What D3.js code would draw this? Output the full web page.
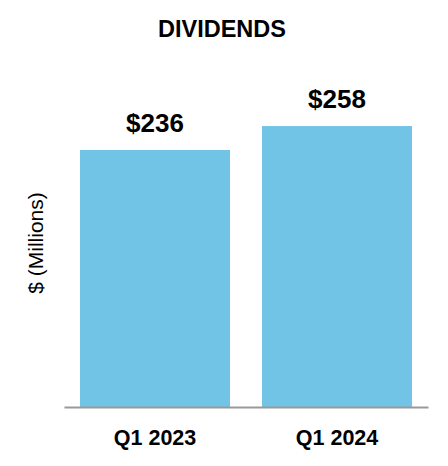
<!DOCTYPE html>
<html><head><meta charset="utf-8">
<script src="https://cdn.jsdelivr.net/npm/d3@7"></script>
<style>body{margin:0;background:#fff}svg{display:block}</style>
</head><body>
<script>
const categories = ["Q1 2023", "Q1 2024"];
const values = [236, 258];
const valueLabels = ["$236", "$258"];
const title = "DIVIDENDS";
const yLabel = "$ (Millions)";

const W = 448, H = 466;
const svg = d3.select("body").append("svg").attr("width", W).attr("height", H);
const font = "'Liberation Sans', Arial, sans-serif";

const x = d3.scaleBand().domain(categories).range([64, 428]).paddingInner(0.176).paddingOuter(0.088);
const y = d3.scaleLinear().domain([0, 300]).range([407, 80.3]);

svg.append("text").attr("x", 222).attr("y", 37).attr("text-anchor", "middle")
  .attr("font-family", font).attr("font-weight", "bold").attr("font-size", 23.5).text(title);

svg.selectAll("rect.bar").data(values).join("rect").attr("class", "bar")
  .attr("x", (d, i) => x(categories[i])).attr("width", x.bandwidth())
  .attr("y", d => y(d)).attr("height", d => y(0) - y(d)).attr("fill", "#72C4E7");

svg.selectAll("text.val").data(values).join("text").attr("class", "val")
  .attr("x", (d, i) => x(categories[i]) + x.bandwidth() / 2).attr("y", d => y(d) - 18)
  .attr("text-anchor", "middle").attr("font-family", font).attr("font-weight", "bold")
  .attr("font-size", 26).text((d, i) => valueLabels[i]);

const xAxis = svg.append("g").attr("transform", `translate(0,${y(0)})`)
  .call(d3.axisBottom(x).tickSize(0).tickPadding(23));
xAxis.select(".domain").attr("stroke", "#999").attr("stroke-width", 2);
xAxis.selectAll(".tick text").attr("font-family", font).attr("font-weight", "bold")
  .attr("font-size", 21.5).attr("fill", "#000");

svg.append("text").attr("transform", "translate(43,243) rotate(-90)").attr("text-anchor", "middle")
  .attr("font-family", font).attr("font-size", 21).attr("fill", "#000").text(yLabel);
</script>
</body></html>
